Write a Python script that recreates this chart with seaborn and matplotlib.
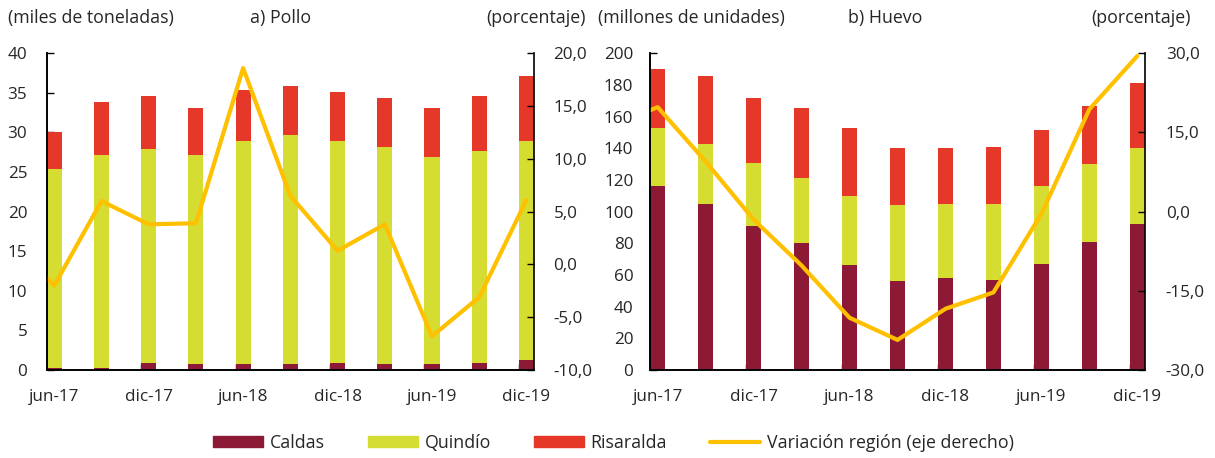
import numpy as np
import pandas as pd
import matplotlib
matplotlib.use("Agg")
import matplotlib.pyplot as plt
from matplotlib.patches import Patch
from matplotlib.lines import Line2D
from matplotlib.ticker import FuncFormatter, FixedLocator
import seaborn as sns

# ---------------- data ----------------
categories = ["jun-17", "sep-17", "dic-17", "mar-18", "jun-18", "sep-18",
              "dic-18", "mar-19", "jun-19", "sep-19", "dic-19"]
tick_labels = ["jun-17", "dic-17", "jun-18", "dic-18", "jun-19", "dic-19"]

# a) Pollo (miles de toneladas)
pollo_caldas = [0.3, 0.3, 0.9, 0.7, 0.7, 0.7, 0.9, 0.7, 0.7, 0.9, 1.2]
pollo_quindio = [25.1, 26.9, 27.0, 26.5, 28.2, 29.0, 28.0, 27.5, 26.2, 26.7, 27.7]
pollo_risaralda = [4.7, 6.7, 6.7, 5.9, 6.5, 6.2, 6.2, 6.2, 6.2, 7.0, 8.2]
# variación región (%) ; prev value = mar-17 (outside the visible range)
pollo_var_prev = 2.4
pollo_var = [-2.0, 6.0, 3.8, 3.9, 18.6, 6.5, 1.3, 3.8, -6.8, -3.1, 6.1]

# b) Huevo (millones de unidades)
huevo_caldas = [116.0, 105.0, 91.0, 80.0, 66.0, 56.0, 58.0, 57.0, 67.0, 81.0, 92.0]
huevo_quindio = [37.0, 38.0, 40.0, 41.0, 44.0, 48.0, 47.0, 48.0, 49.0, 49.0, 48.0]
huevo_risaralda = [37.0, 42.5, 40.5, 44.5, 43.0, 36.0, 35.0, 36.0, 35.5, 36.5, 41.5]
huevo_var_prev = 16.0
huevo_var = [19.8, 9.5, -1.5, -10.2, -20.1, -24.3, -18.4, -15.3, -0.4, 19.4, 29.5]

# ---------------- style ----------------
sns.set_theme(style="white")
plt.rcParams["font.family"] = ["Open Sans", "DejaVu Sans"]
plt.rcParams["font.size"] = 12

C_CALDAS = "#8C1936"
C_QUINDIO = "#D5DC32"
C_RISARALDA = "#E53828"
C_LINE = "#FFC000"
W = 0.32
FS_TICK = 12.3
FS_TEXT = 12.8

FIG_W, FIG_H = 1215, 458
fig = plt.figure(figsize=(FIG_W / 100, FIG_H / 100), dpi=100)
ax_a = fig.add_axes([46.7 / FIG_W, 1 - 370 / FIG_H, 487.3 / FIG_W, (370 - 53.3) / FIG_H])
ax_b = fig.add_axes([650 / FIG_W, 1 - 370 / FIG_H, 495 / FIG_W, (370 - 53.3) / FIG_H])


def comma(fmt):
    return FuncFormatter(lambda v, p: (fmt % v).replace(".", ","))


def panel(ax, caldas, quindio, risaralda, var_prev, var, ylim, ystep,
          y2lim, y2step, lpad, rpad):
    caldas = np.array(caldas)
    cq = caldas + np.array(quindio)
    total = cq + np.array(risaralda)
    df = pd.DataFrame({"cat": categories, "total": total, "cq": cq, "c": caldas})
    sns.barplot(data=df, x="cat", y="total", color=C_RISARALDA, width=W,
                saturation=1, ax=ax, order=categories, linewidth=0)
    sns.barplot(data=df, x="cat", y="cq", color=C_QUINDIO, width=W,
                saturation=1, ax=ax, order=categories, linewidth=0)
    sns.barplot(data=df, x="cat", y="c", color=C_CALDAS, width=W,
                saturation=1, ax=ax, order=categories, linewidth=0)
    ax.set_xlabel("")
    ax.set_ylabel("")
    ax.set_ylim(*ylim)
    ax.set_yticks(np.arange(ylim[0], ylim[1] + 0.001, ystep))
    ax.yaxis.set_major_formatter(FuncFormatter(lambda v, p: "%d" % v))

    ax2 = ax.twinx()
    xs = list(range(-1, len(categories)))
    ys = [var_prev] + list(var)
    sns.lineplot(x=xs, y=ys, ax=ax2, color=C_LINE, linewidth=3, sort=False)
    ax2.set_ylim(*y2lim)
    ax2.set_yticks(np.arange(y2lim[0], y2lim[1] + 0.001, y2step))
    ax2.yaxis.set_major_formatter(comma("%.1f"))
    ax2.set_ylabel("")

    n = len(categories)
    ax.set_xlim(-W / 2, n - 1 + W / 2)
    ax2.set_xlim(-W / 2, n - 1 + W / 2)
    lab_pos = [i for i in range(n) if categories[i] in tick_labels]
    ax.set_xticks(lab_pos)
    ax.set_xticklabels([categories[i] for i in lab_pos])
    ax.xaxis.set_minor_locator(FixedLocator([i - W / 2 for i in lab_pos]))
    ax.tick_params(axis="x", which="major", length=0, pad=14, labelsize=FS_TICK)
    ax.tick_params(axis="x", which="minor", length=4, direction="in",
                   width=1, color="black", bottom=True)
    ax.tick_params(axis="y", length=5, direction="in", width=1,
                   color="black", left=True, labelsize=FS_TICK, pad=lpad)
    ax2.tick_params(axis="y", length=5, direction="in", width=1,
                    color="black", right=True, labelsize=FS_TICK, pad=rpad)

    for a in (ax, ax2):
        a.spines["top"].set_visible(False)
        for s in ("left", "right", "bottom"):
            a.spines[s].set_color("black")
            a.spines[s].set_linewidth(1.2)
        a.grid(False)
    ax.spines["right"].set_visible(False)
    return ax2


panel(ax_a, pollo_caldas, pollo_quindio, pollo_risaralda, pollo_var_prev,
      pollo_var, (0, 40), 5, (-10, 20), 5, 14, 14)
panel(ax_b, huevo_caldas, huevo_quindio, huevo_risaralda, huevo_var_prev,
      huevo_var, (0, 200), 20, (-30, 30), 15, 12, 15)

ty = 1 - 18 / FIG_H
fig.text(8 / FIG_W, ty, "(miles de toneladas)", ha="left", va="center", fontsize=FS_TEXT)
fig.text(281 / FIG_W, ty, "a) Pollo", ha="center", va="center", fontsize=FS_TEXT)
fig.text(586 / FIG_W, ty, "(porcentaje)", ha="right", va="center", fontsize=FS_TEXT)
fig.text(598 / FIG_W, ty, "(millones de unidades)", ha="left", va="center", fontsize=FS_TEXT)
fig.text(885 / FIG_W, ty, "b) Huevo", ha="center", va="center", fontsize=FS_TEXT)
fig.text(1191 / FIG_W, ty, "(porcentaje)", ha="right", va="center", fontsize=FS_TEXT)

handles = [Patch(color=C_CALDAS), Patch(color=C_QUINDIO),
           Patch(color=C_RISARALDA), Line2D([0], [0], color=C_LINE, lw=3)]
labels = ["Caldas", "Quindío", "Risaralda", "Variación región (eje derecho)"]
fig.legend(handles, labels, loc="center", bbox_to_anchor=(0.505, 1 - 443 / FIG_H),
           ncol=4, frameon=False, fontsize=FS_TEXT, handlelength=2.8,
           handleheight=0.6, columnspacing=2.4, handletextpad=0.4)

fig.savefig("out.png", dpi=100)
